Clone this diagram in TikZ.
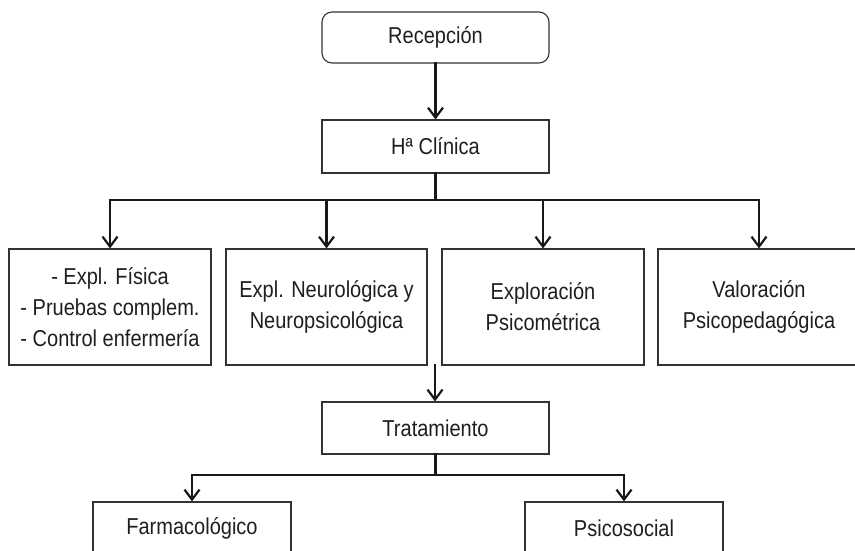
\documentclass[tikz,border=0pt]{standalone}
\usepackage{fontspec}
\setmainfont{Liberation Sans}[FakeStretch=0.87]
\usetikzlibrary{arrows.meta}
\begin{document}
\begin{tikzpicture}[x=1pt,y=-1pt,
  box/.style={draw=black!80, line width=1.1pt, inner sep=0pt, align=center,
    font=\fontsize{23}{31}\selectfont, text=black!88},
  conn/.style={line width=2.2pt, draw=black!90, line cap=rect},
  arr/.style={conn, -{Straight Barb[length=10pt,width=15pt]}}]
\useasboundingbox (0,0) rectangle (855,550);
\clip (0,0) rectangle (855,550);
\fill[white] (0,0) rectangle (855,550);
\node[box, rounded corners=10pt, minimum width=227pt, minimum height=51pt] (rec) at (435.5,37.5) {Recepción};
\node[box, minimum width=227pt, minimum height=53pt] (hc) at (435.5,146.5) {Hª Clínica};
\node[box, minimum width=202pt, minimum height=116pt] (b1) at (110,307) {- Expl. Física\\- Pruebas complem.\\- Control enfermería};
\node[box, minimum width=201pt, minimum height=116pt] (b2) at (326.5,307) {Expl. Neurológica y\\Neuropsicológica};
\node[box, minimum width=202pt, minimum height=116pt] (b3) at (543,307) {Exploración\\Psicométrica};
\node[box, minimum width=202pt, minimum height=116pt] (b4) at (759,307) {Valoración\\Psicopedagógica};
\node[box, minimum width=227pt, minimum height=52pt] (trat) at (435.5,428) {Tratamiento};
\node[box, minimum width=198pt, minimum height=52pt] (farm) at (192,528) {Farmacológico};
\node[box, minimum width=198pt, minimum height=52pt] (psico) at (624,528) {Psicosocial};
\coordinate (j1) at (435.5,200);
\coordinate (g) at (435,365);
\coordinate (j2) at (435.5,475);
\draw[arr] (rec.south) -- (hc.north);
\draw[conn] (hc.south) -- (j1);
\draw[conn] (b1.north |- j1) -- (b4.north |- j1);
\foreach \b in {b1,b2,b3,b4} \draw[arr] (\b.north |- j1) -- (\b.north);
\draw[arr] (g) -- (g |- trat.north);
\draw[conn] (trat.south) -- (j2);
\draw[conn] (farm.north |- j2) -- (psico.north |- j2);
\foreach \b in {farm,psico} \draw[arr] (\b.north |- j2) -- (\b.north);
\end{tikzpicture}
\end{document}
